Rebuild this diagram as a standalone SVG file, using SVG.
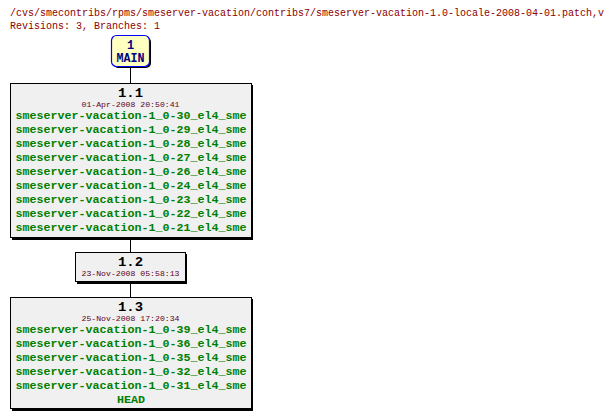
<svg xmlns="http://www.w3.org/2000/svg" width="614" height="419" viewBox="0 0 614 419">
<style>
.hdr{font-family:"Liberation Mono","DejaVu Sans Mono",monospace;font-size:10px;fill:#8b0000}
.rev{font-family:"Liberation Mono","DejaVu Sans Mono",monospace;font-size:13px;font-weight:bold;fill:#000;text-anchor:middle}
.date{font-family:"Liberation Mono","DejaVu Sans Mono",monospace;font-size:7.5px;fill:#600020;text-anchor:middle}
.tag{font-family:"Liberation Mono","DejaVu Sans Mono",monospace;font-size:11.6px;font-weight:bold;fill:#008000;text-anchor:middle}
.box{fill:#f0f0f0;stroke:#000;stroke-width:1}
.shadow{fill:#000}
.br{font-family:"Liberation Mono","DejaVu Sans Mono",monospace;font-size:12px;font-weight:bold;fill:#000080;text-anchor:middle}
.conn line{stroke:#000;stroke-width:1}
</style>
<text class="hdr" x="10" y="16" textLength="594" lengthAdjust="spacingAndGlyphs">/cvs/smecontribs/rpms/smeserver-vacation/contribs7/smeserver-vacation-1.0-locale-2008-04-01.patch,v</text>
<text class="hdr" x="10" y="29" textLength="150" lengthAdjust="spacingAndGlyphs">Revisions: 3, Branches: 1</text>
<g id="connectors" class="conn">
<line x1="130.5" y1="67" x2="130.5" y2="83"/>
<line x1="130.5" y1="238" x2="130.5" y2="252"/>
<line x1="130.5" y1="282" x2="130.5" y2="297"/>
</g>
<g id="branch-main">
<rect x="113" y="37" width="38" height="31" rx="5" fill="#000"/>
<rect x="111.5" y="35.5" width="38" height="31" rx="5" fill="#ffffc0" stroke="#0000ff" stroke-width="1.2"/>
<text class="br" x="130.5" y="49">1</text>
<text class="br" x="130.5" y="62" textLength="28" lengthAdjust="spacingAndGlyphs">MAIN</text>
</g>
<g id="rev-1.1">
<rect class="shadow" x="12" y="85" width="241" height="155"/>
<rect class="box" x="10.5" y="83.5" width="241" height="154"/>
<text class="rev" x="130.5" y="96.5" textLength="25" lengthAdjust="spacingAndGlyphs">1.1</text>
<text class="date" x="130.5" y="107" textLength="98" lengthAdjust="spacingAndGlyphs">01-Apr-2008 20:50:41</text>
<text class="tag" x="131" y="119" textLength="231" lengthAdjust="spacingAndGlyphs">smeserver-vacation-1_0-30_el4_sme</text>
<text class="tag" x="131" y="133" textLength="231" lengthAdjust="spacingAndGlyphs">smeserver-vacation-1_0-29_el4_sme</text>
<text class="tag" x="131" y="147" textLength="231" lengthAdjust="spacingAndGlyphs">smeserver-vacation-1_0-28_el4_sme</text>
<text class="tag" x="131" y="161" textLength="231" lengthAdjust="spacingAndGlyphs">smeserver-vacation-1_0-27_el4_sme</text>
<text class="tag" x="131" y="175" textLength="231" lengthAdjust="spacingAndGlyphs">smeserver-vacation-1_0-26_el4_sme</text>
<text class="tag" x="131" y="189" textLength="231" lengthAdjust="spacingAndGlyphs">smeserver-vacation-1_0-24_el4_sme</text>
<text class="tag" x="131" y="203" textLength="231" lengthAdjust="spacingAndGlyphs">smeserver-vacation-1_0-23_el4_sme</text>
<text class="tag" x="131" y="217" textLength="231" lengthAdjust="spacingAndGlyphs">smeserver-vacation-1_0-22_el4_sme</text>
<text class="tag" x="131" y="231" textLength="231" lengthAdjust="spacingAndGlyphs">smeserver-vacation-1_0-21_el4_sme</text>
</g>
<g id="rev-1.2">
<rect class="shadow" x="77" y="254" width="110" height="30"/>
<rect class="box" x="75.5" y="252.5" width="110" height="29"/>
<text class="rev" x="130.5" y="265.5" textLength="25" lengthAdjust="spacingAndGlyphs">1.2</text>
<text class="date" x="130.5" y="276" textLength="98" lengthAdjust="spacingAndGlyphs">23-Nov-2008 05:58:13</text>
</g>
<g id="rev-1.3">
<rect class="shadow" x="12" y="299" width="241" height="112"/>
<rect class="box" x="10.5" y="297.5" width="241" height="111"/>
<text class="rev" x="130.5" y="310.5" textLength="25" lengthAdjust="spacingAndGlyphs">1.3</text>
<text class="date" x="130.5" y="321" textLength="98" lengthAdjust="spacingAndGlyphs">25-Nov-2008 17:20:34</text>
<text class="tag" x="131" y="333" textLength="231" lengthAdjust="spacingAndGlyphs">smeserver-vacation-1_0-39_el4_sme</text>
<text class="tag" x="131" y="347" textLength="231" lengthAdjust="spacingAndGlyphs">smeserver-vacation-1_0-36_el4_sme</text>
<text class="tag" x="131" y="361" textLength="231" lengthAdjust="spacingAndGlyphs">smeserver-vacation-1_0-35_el4_sme</text>
<text class="tag" x="131" y="375" textLength="231" lengthAdjust="spacingAndGlyphs">smeserver-vacation-1_0-32_el4_sme</text>
<text class="tag" x="131" y="389" textLength="231" lengthAdjust="spacingAndGlyphs">smeserver-vacation-1_0-31_el4_sme</text>
<text class="tag" x="131" y="403" textLength="28" lengthAdjust="spacingAndGlyphs">HEAD</text>
</g>
</svg>
